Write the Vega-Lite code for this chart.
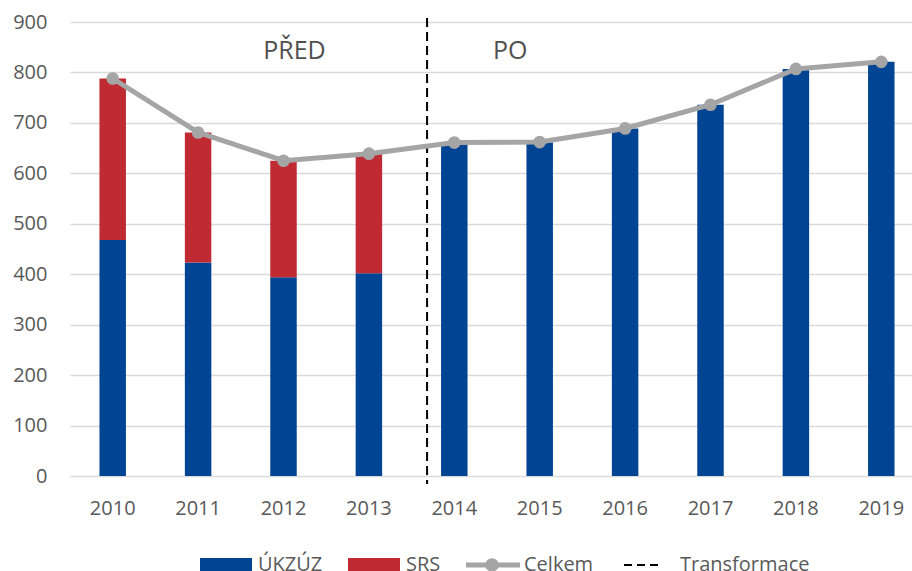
{
  "$schema": "https://vega.github.io/schema/vega-lite/v6.json",
  "autosize": "none",
  "width": 854,
  "height": 454,
  "padding": {"left": 70, "top": 22, "right": 0, "bottom": 95},
  "background": "white",
  "config": {
    "font": "Open Sans",
    "view": {"stroke": null},
    "axis": {"labelFont": "Open Sans", "labelFontSize": 20, "labelColor": "#595959", "domain": false, "ticks": false, "tickSize": 0, "title": null}
  },
  "datasets": {
    "bars": [
      {"year": "2010", "series": "ÚKZÚZ", "value": 468, "k": 1},
      {"year": "2010", "series": "SRS", "value": 320, "k": 2},
      {"year": "2011", "series": "ÚKZÚZ", "value": 423, "k": 1},
      {"year": "2011", "series": "SRS", "value": 258, "k": 2},
      {"year": "2012", "series": "ÚKZÚZ", "value": 394, "k": 1},
      {"year": "2012", "series": "SRS", "value": 231, "k": 2},
      {"year": "2013", "series": "ÚKZÚZ", "value": 402, "k": 1},
      {"year": "2013", "series": "SRS", "value": 237, "k": 2},
      {"year": "2014", "series": "ÚKZÚZ", "value": 660, "k": 1},
      {"year": "2015", "series": "ÚKZÚZ", "value": 661, "k": 1},
      {"year": "2016", "series": "ÚKZÚZ", "value": 689, "k": 1},
      {"year": "2017", "series": "ÚKZÚZ", "value": 736, "k": 1},
      {"year": "2018", "series": "ÚKZÚZ", "value": 807, "k": 1},
      {"year": "2019", "series": "ÚKZÚZ", "value": 821, "k": 1}
    ],
    "total": [
      {"year": "2010", "total": 788},
      {"year": "2011", "total": 681},
      {"year": "2012", "total": 625},
      {"year": "2013", "total": 639},
      {"year": "2014", "total": 661},
      {"year": "2015", "total": 662},
      {"year": "2016", "total": 689},
      {"year": "2017", "total": 736},
      {"year": "2018", "total": 807},
      {"year": "2019", "total": 821}
    ],
    "one": [{}]
  },
  "encoding": {
    "x": {
      "field": "year", "type": "nominal",
      "scale": {"domain": ["2010","2011","2012","2013","2014","2015","2016","2017","2018","2019"], "paddingInner": 0.69, "paddingOuter": 0.345},
      "axis": {"labelAngle": 0, "labelPadding": 22, "grid": false}
    }
  },
  "layer": [
    {
      "data": {"name": "bars"},
      "mark": {"type": "bar"},
      "encoding": {
        "y": {
          "field": "value", "type": "quantitative", "stack": "zero",
          "scale": {"domain": [0, 900], "nice": false},
          "axis": {"values": [0,100,200,300,400,500,600,700,800,900], "labelPadding": 23, "grid": true, "gridColor": "#D9D9D9", "gridWidth": 1.5}
        },
        "order": {"field": "k", "type": "quantitative"},
        "color": {
          "field": "series", "type": "nominal",
          "scale": {"domain": ["ÚKZÚZ", "SRS", "Celkem", "Transformace"], "range": ["#004494", "#BF2A33", "#A5A5A5", "#000000"]},
          "legend": {
            "title": null,
            "orient": "none",
            "direction": "horizontal",
            "legendX": 130,
            "legendY": 529,
            "padding": 0,
            "symbolSize": 2704,
            "clipHeight": 28,
            "symbolOffset": 16,
            "labelOffset": 22,
            "columnPadding": 25,
            "labelFont": "Open Sans",
            "labelFontSize": 20,
            "labelColor": "#595959",
            "encode": {
              "symbols": {"update": {
                "shape": {"signal": "datum.value === 'Celkem' ? 'M-1,0L1,0M-0.15,0A0.15,0.15,0,1,0,0.15,0A0.15,0.15,0,1,0,-0.15,0' : datum.value === 'Transformace' ? 'M-1.36,0L0.64,0' : 'M-1,-0.27L1,-0.27L1,0.27L-1,0.27Z'"},
                "size": {"signal": "datum.value === 'Celkem' ? 3136 : datum.value === 'Transformace' ? 2500 : 2704"},
                "fill": {"signal": "datum.value === 'ÚKZÚZ' ? '#004494' : datum.value === 'SRS' ? '#BF2A33' : datum.value === 'Celkem' ? '#A5A5A5' : 'transparent'"},
                "stroke": {"signal": "datum.value === 'Celkem' ? '#A5A5A5' : datum.value === 'Transformace' ? '#000000' : 'transparent'"},
                "strokeWidth": {"signal": "datum.value === 'Celkem' ? 5 : datum.value === 'Transformace' ? 2 : 0"},
                "strokeDash": {"signal": "datum.value === 'Transformace' ? [8,5] : [1,0]"},
                "opacity": {"value": 1}
              }},
              "labels": {"update": {
                "dx": {"signal": "datum.value === 'Transformace' ? 3 : 0"}
              }}
            }
          }
        }
      }
    },
    {
      "data": {"name": "one"},
      "mark": {"type": "rule", "strokeDash": [9, 5], "strokeWidth": 2, "xOffset": -14, "yOffset": -4, "y2Offset": 8},
      "encoding": {
        "x": {"datum": "2014", "bandPosition": 0},
        "y": {"datum": 900, "type": "quantitative"},
        "y2": {"datum": 0},
        "color": {"datum": "Transformace"}
      }
    },
    {
      "data": {"name": "total"},
      "mark": {"type": "line", "strokeWidth": 5, "point": {"size": 160, "filled": true, "opacity": 1}},
      "encoding": {
        "y": {"field": "total", "type": "quantitative"},
        "color": {"datum": "Celkem"}
      }
    },
    {
      "data": {"name": "one"},
      "mark": {"type": "text", "fontSize": 25, "font": "Open Sans", "color": "#505050", "baseline": "alphabetic", "align": "center", "dx": 11},
      "encoding": {
        "x": {"datum": "2012"},
        "y": {"datum": 827, "type": "quantitative"},
        "text": {"value": "PŘED"}
      }
    },
    {
      "data": {"name": "one"},
      "mark": {"type": "text", "fontSize": 25, "font": "Open Sans", "color": "#505050", "baseline": "alphabetic", "align": "center", "dx": 56},
      "encoding": {
        "x": {"datum": "2014"},
        "y": {"datum": 827, "type": "quantitative"},
        "text": {"value": "PO"}
      }
    }
  ]
}
